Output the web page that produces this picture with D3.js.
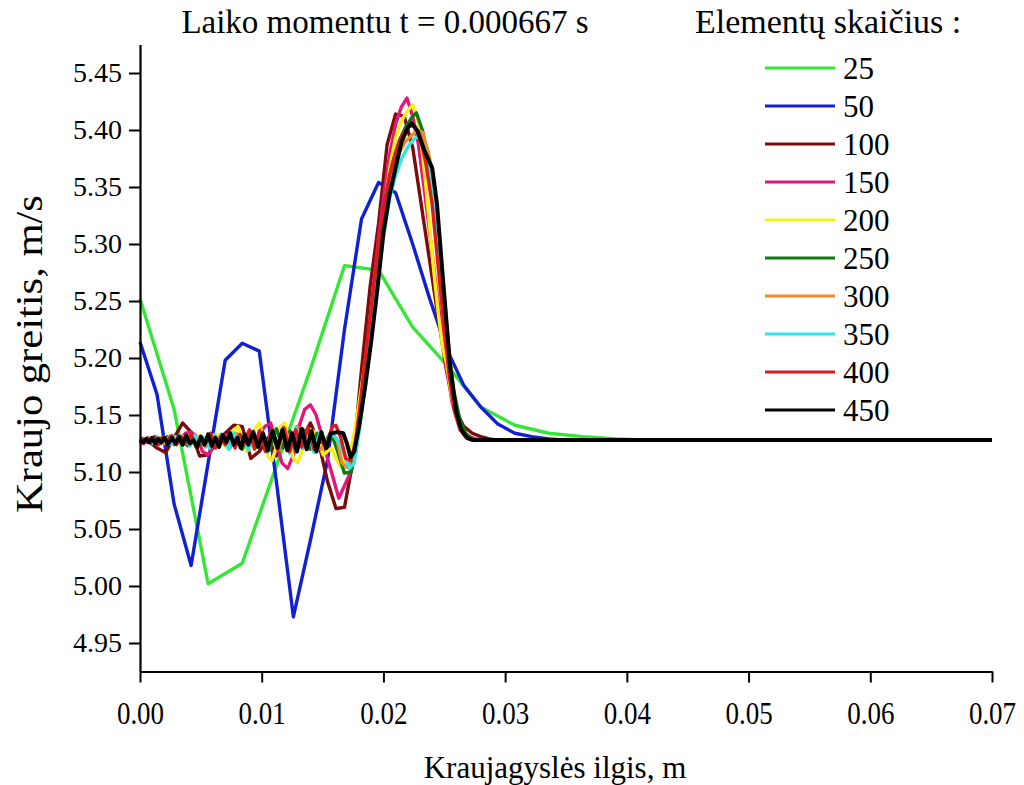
<!DOCTYPE html>
<html><head><meta charset="utf-8">
<script src="https://cdn.jsdelivr.net/npm/d3@7"></script>
<style>
body{margin:0;background:#fff}
svg{display:block}
text{font-family:"Liberation Serif","Times New Roman",serif;fill:#000}
</style>
</head><body>
<svg id="c" width="1024" height="785"></svg>
<script>
// ---------------- DATA ----------------
const titleText = "Laiko momentu t = 0.000667 s";
const legendTitle = "Elementų skaičius :";
const xLabel = "Kraujagyslės ilgis, m";
const yLabel = "Kraujo greitis, m/s";
const xTicks = [0.00, 0.01, 0.02, 0.03, 0.04, 0.05, 0.06, 0.07];
const yTicks = [4.95, 5.00, 5.05, 5.10, 5.15, 5.20, 5.25, 5.30, 5.35, 5.40, 5.45];
const vesselLength = 0.07;          // m
const elementCounts = [25, 50, 100, 150, 200, 250, 300, 350, 400, 450];
const seriesColors = ["#36e636", "#1020d2", "#7a0c0c", "#e4167c", "#f6f01a",
                      "#0f7a0f", "#f08a2a", "#30e6e6", "#dc1a1a", "#000000"];

// node values (one per element node, until the solution settles)
const v25 = [5.252, 5.155, 5.002, 5.020, 5.105, 5.190, 5.281, 5.277, 5.227, 5.194,
             5.157, 5.141, 5.134, 5.131, 5.129, 5.128];
const v50 = [5.214, 5.168, 5.072, 5.018, 5.108, 5.198, 5.213, 5.206, 5.092, 4.973,
             5.040, 5.110, 5.225, 5.322, 5.354, 5.345, 5.300, 5.252, 5.208, 5.176,
             5.157, 5.142, 5.134, 5.131, 5.129, 5.128];
const v100 = [5.130, 5.127, 5.121, 5.117, 5.130, 5.143, 5.135, 5.114, 5.115, 5.126,
              5.134, 5.141, 5.140, 5.112, 5.118, 5.130, 5.114, 5.135, 5.122, 5.128,
              5.143, 5.125, 5.092, 5.068, 5.069, 5.110, 5.190, 5.262, 5.318, 5.387,
              5.414, 5.412, 5.385, 5.335, 5.285, 5.235, 5.188, 5.155, 5.140, 5.134,
              5.131, 5.129, 5.128];
const v150 = [5.129, 5.128, 5.126, 5.124, 5.127, 5.130, 5.124, 5.128, 5.134, 5.135,
              5.131, 5.118, 5.115, 5.124, 5.129, 5.132, 5.127, 5.124, 5.130, 5.131,
              5.126, 5.133, 5.140, 5.143, 5.125, 5.108, 5.103, 5.115, 5.140, 5.155,
              5.159, 5.150, 5.132, 5.112, 5.095, 5.077, 5.088, 5.099, 5.118, 5.160,
              5.210, 5.258, 5.305, 5.345, 5.380, 5.405, 5.420, 5.428, 5.412, 5.388,
              5.350, 5.310, 5.268, 5.228, 5.190, 5.160, 5.143, 5.135, 5.131, 5.129, 5.128];
const v200 = [5.128, 5.127, 5.129, 5.128, 5.126, 5.129, 5.131, 5.127, 5.125, 5.128,
              5.131, 5.129, 5.124, 5.127, 5.132, 5.130, 5.124, 5.126, 5.133, 5.131,
              5.122, 5.125, 5.136, 5.140, 5.128, 5.118, 5.122, 5.138, 5.143, 5.130,
              5.114, 5.110, 5.122, 5.140, 5.143, 5.128, 5.112, 5.108, 5.118, 5.133,
              5.137, 5.135, 5.125, 5.115, 5.118, 5.121, 5.112, 5.105, 5.108, 5.115,
              5.128, 5.150, 5.175, 5.200, 5.225, 5.252, 5.285, 5.320, 5.350, 5.375,
              5.393, 5.405, 5.412, 5.418, 5.422, 5.414, 5.390, 5.355, 5.315, 5.275,
              5.240, 5.210, 5.195, 5.170, 5.150, 5.139, 5.133, 5.130, 5.129, 5.128];

// finer meshes: [position in mm, velocity in m/s] read at visible vertices
const p250 = [[0,5.128],[0.56,5.126],[1.12,5.130],[1.68,5.125],[2.24,5.131],[2.8,5.126],[3.36,5.130],[3.92,5.123],
  [4.48,5.131],[5.04,5.124],[5.6,5.132],[6.16,5.122],[6.72,5.133],[7.28,5.123],[7.84,5.132],[8.4,5.120],
  [8.96,5.136],[9.52,5.122],[10.08,5.134],[10.64,5.119],[11.2,5.138],[11.76,5.121],[12.32,5.136],[12.88,5.118],
  [13.44,5.137],[14.0,5.120],[14.56,5.134],[15.12,5.124],[15.68,5.135],[16.24,5.118],[16.8,5.099],[17.36,5.100],
  [17.92,5.135],[18.48,5.190],[19.04,5.245],[19.6,5.295],[20.16,5.340],[20.72,5.370],[21.28,5.390],[21.84,5.403],
  [22.4,5.412],[22.7,5.415],[23.2,5.400],[23.8,5.370],[24.3,5.330],[24.9,5.265],[25.4,5.205],[25.8,5.170],
  [26.3,5.145],[26.8,5.133],[27.3,5.129],[27.8,5.128],[70,5.128]];
const p300 = [[0,5.128],[0.4,5.126],[0.8,5.130],[1.2,5.127],[1.6,5.130],[2.0,5.125],[2.4,5.131],[2.8,5.126],
  [3.2,5.130],[3.6,5.124],[4.0,5.132],[4.4,5.127],[4.9,5.129],[5.4,5.122],[5.9,5.132],[6.4,5.125],[6.9,5.130],
  [7.4,5.121],[7.9,5.134],[8.4,5.126],[8.9,5.135],[9.4,5.122],[9.9,5.137],[10.4,5.124],[10.9,5.136],[11.4,5.120],
  [11.9,5.138],[12.4,5.125],[12.9,5.140],[13.4,5.121],[13.9,5.135],[14.4,5.125],[14.9,5.120],[15.4,5.128],
  [15.8,5.135],[16.2,5.128],[16.6,5.108],[17.0,5.104],[17.4,5.112],[17.8,5.135],[18.3,5.175],[18.8,5.220],
  [19.3,5.265],[19.8,5.305],[20.3,5.340],[20.8,5.365],[21.3,5.380],[21.8,5.390],[22.3,5.395],[22.8,5.400],
  [23.2,5.398],[23.7,5.380],[24.2,5.350],[24.7,5.290],[25.2,5.225],[25.6,5.180],[26.0,5.150],[26.5,5.135],
  [27.0,5.129],[27.5,5.128],[70,5.128]];
const p350 = [[0,5.128],[0.35,5.126],[0.7,5.130],[1.05,5.125],[1.4,5.131],[1.75,5.127],[2.1,5.129],[2.5,5.124],
  [2.9,5.131],[3.3,5.126],[3.7,5.130],[4.1,5.123],[4.5,5.132],[4.9,5.126],[5.3,5.130],[5.7,5.121],[6.1,5.133],
  [6.5,5.125],[6.9,5.129],[7.3,5.120],[7.7,5.134],[8.1,5.124],[8.5,5.131],[8.9,5.119],[9.3,5.136],[9.7,5.124],
  [10.1,5.133],[10.5,5.117],[10.9,5.137],[11.3,5.123],[11.8,5.135],[12.3,5.116],[12.8,5.139],[13.3,5.121],
  [13.8,5.136],[14.3,5.117],[14.8,5.135],[15.3,5.125],[15.8,5.133],[16.3,5.127],[16.8,5.115],[17.2,5.103],
  [17.6,5.108],[18.0,5.135],[18.5,5.175],[19.0,5.220],[19.5,5.265],[20.0,5.305],[20.5,5.340],[21.0,5.360],
  [21.5,5.375],[22.0,5.385],[22.5,5.392],[22.9,5.395],[23.4,5.383],[23.9,5.360],[24.4,5.320],[24.9,5.260],
  [25.4,5.200],[25.8,5.160],[26.2,5.140],[26.7,5.131],[27.2,5.128],[70,5.128]];
const p400 = [[0,5.128],[0.3,5.125],[0.6,5.130],[0.9,5.126],[1.2,5.131],[1.5,5.124],[1.8,5.130],[2.2,5.127],
  [2.6,5.132],[3.0,5.124],[3.4,5.131],[3.8,5.126],[4.2,5.133],[4.6,5.122],[5.0,5.130],[5.4,5.125],[5.8,5.134],
  [6.2,5.121],[6.6,5.131],[7.0,5.124],[7.4,5.135],[7.8,5.121],[8.2,5.133],[8.6,5.125],[9.0,5.137],[9.4,5.120],
  [9.8,5.136],[10.3,5.118],[10.8,5.138],[11.3,5.120],[11.8,5.139],[12.3,5.118],[12.8,5.137],[13.3,5.122],
  [13.8,5.139],[14.3,5.120],[14.8,5.128],[15.3,5.122],[15.8,5.140],[16.1,5.141],[16.5,5.130],[16.9,5.112],
  [17.3,5.110],[17.7,5.125],[18.1,5.160],[18.5,5.200],[19.0,5.245],[19.5,5.290],[20.0,5.330],[20.5,5.360],
  [21.0,5.380],[21.5,5.395],[22.0,5.402],[22.5,5.405],[23.0,5.395],[23.5,5.370],[24.0,5.335],[24.5,5.280],
  [25.0,5.225],[25.4,5.185],[25.8,5.155],[26.3,5.137],[26.8,5.130],[27.3,5.128],[70,5.128]];
const p450 = [[0,5.128],[0.25,5.126],[0.5,5.129],[0.75,5.126],[1.0,5.130],[1.25,5.125],[1.5,5.129],[1.75,5.126],
  [2.0,5.130],[2.3,5.124],[2.6,5.130],[2.9,5.125],[3.2,5.131],[3.5,5.124],[3.8,5.132],[4.1,5.125],[4.4,5.128],
  [4.7,5.122],[5.0,5.131],[5.3,5.124],[5.6,5.133],[5.9,5.123],[6.2,5.130],[6.5,5.122],[6.8,5.132],[7.1,5.126],
  [7.4,5.134],[7.7,5.124],[8.0,5.130],[8.3,5.121],[8.6,5.133],[8.9,5.124],[9.3,5.135],[9.7,5.122],[10.1,5.134],
  [10.5,5.119],[10.9,5.136],[11.3,5.121],[11.7,5.137],[12.1,5.119],[12.5,5.134],[12.9,5.118],[13.3,5.138],
  [13.7,5.120],[14.1,5.136],[14.5,5.118],[14.9,5.135],[15.3,5.121],[15.7,5.134],[16.2,5.135],[16.7,5.134],
  [17.0,5.125],[17.3,5.113],[17.6,5.118],[18.0,5.140],[18.5,5.175],[19.0,5.215],[19.5,5.260],[20.0,5.310],
  [20.5,5.343],[21.0,5.367],[21.5,5.390],[22.0,5.402],[22.3,5.406],[22.8,5.399],[23.4,5.381],[24.0,5.367],
  [24.4,5.335],[24.9,5.268],[25.5,5.190],[26.0,5.152],[26.4,5.137],[26.9,5.130],[27.4,5.128],[70,5.128]];

// ---------------- BUILD ----------------
function gridPoints(vals, n){
  const pts = vals.map((v,i)=>[i*vesselLength/n, v]);
  const last = pts[pts.length-1];
  if (last[0] < vesselLength) pts.push([vesselLength, last[1]]);
  return pts;
}
function mmPoints(pairs){ return pairs.map(p=>[p[0]/1000, p[1]]); }

const series = [
  gridPoints(v25,25), gridPoints(v50,50), gridPoints(v100,100), gridPoints(v150,150), gridPoints(v200,200),
  mmPoints(p250), mmPoints(p300), mmPoints(p350), mmPoints(p400), mmPoints(p450)
].map((pts,k)=>({n:elementCounts[k], color:seriesColors[k], pts}));

const svg = d3.select("#c");
const x = d3.scaleLinear().domain([0, 0.07]).range([140, 992]);
const y = d3.scaleLinear().domain([4.925, 5.475]).range([671.5, 44.5]);

// lines
const line = d3.line().x(d=>x(d[0])).y(d=>y(d[1]));
svg.append("g").selectAll("path").data(series).join("path")
  .attr("d", d=>line(d.pts))
  .attr("fill","none")
  .attr("stroke", d=>d.color)
  .attr("stroke-width", d=>d.n===450?4:3.4)
  .attr("stroke-linejoin","round");

// axes
const fmt = d3.format(".2f");
const xMinor = xTicks.slice(0,-1).map(t=>t+0.005);
const yMinor = yTicks.map(t=>t+0.025);

const gx = svg.append("g").attr("transform","translate(0,671.5)");
gx.call(d3.axisBottom(x).tickValues(xMinor).tickSize(6).tickSizeOuter(0).tickFormat(""));
gx.call(d3.axisBottom(x).tickValues(xTicks).tickSize(11).tickSizeOuter(0).tickPadding(0).tickFormat(fmt));
const gy = svg.append("g").attr("transform","translate(140,0)");
gy.call(d3.axisLeft(y).tickValues(yMinor).tickSize(6).tickSizeOuter(0).tickFormat(""));
gy.call(d3.axisLeft(y).tickValues(yTicks).tickSize(11).tickSizeOuter(0).tickPadding(7).tickFormat(fmt));
svg.selectAll(".domain").attr("stroke","#000").attr("stroke-width",2.2);
svg.selectAll(".tick line").attr("stroke","#000").attr("stroke-width",2);
gy.selectAll("text").attr("font-size",28).style("font-family",'"Liberation Serif",serif');
// x tick labels: slightly tall, as in the reference (baseline ~52px under the axis)
gx.selectAll(".tick text")
  .attr("y",null).attr("dy",null)
  .attr("font-size",27).style("font-family",'"Liberation Serif",serif')
  .attr("transform","translate(0,52) scale(1,1.18)");

// titles
svg.append("text").attr("x",385).attr("y",33).attr("text-anchor","middle")
  .attr("font-size",33).text(titleText);
svg.append("text").attr("x",555).attr("y",778).attr("text-anchor","middle")
  .attr("font-size",31).text(xLabel);
svg.append("text").attr("transform","translate(42,354) rotate(-90) scale(1.12,1)").attr("text-anchor","middle")
  .attr("font-size",38).text(yLabel);

// legend
svg.append("text").attr("x",695).attr("y",33).attr("font-size",34).text(legendTitle);
const lg = svg.append("g").selectAll("g").data(series).join("g")
  .attr("transform",(d,i)=>`translate(0,${68 + i*38.0})`);
lg.append("line").attr("x1",765).attr("x2",835).attr("y1",0).attr("y2",0)
  .attr("stroke",d=>d.color).attr("stroke-width",3.2);
lg.append("text").attr("x",843).attr("y",0).attr("dy","0.35em").attr("font-size",31)
  .text(d=>d.n);
</script>
</body></html>
